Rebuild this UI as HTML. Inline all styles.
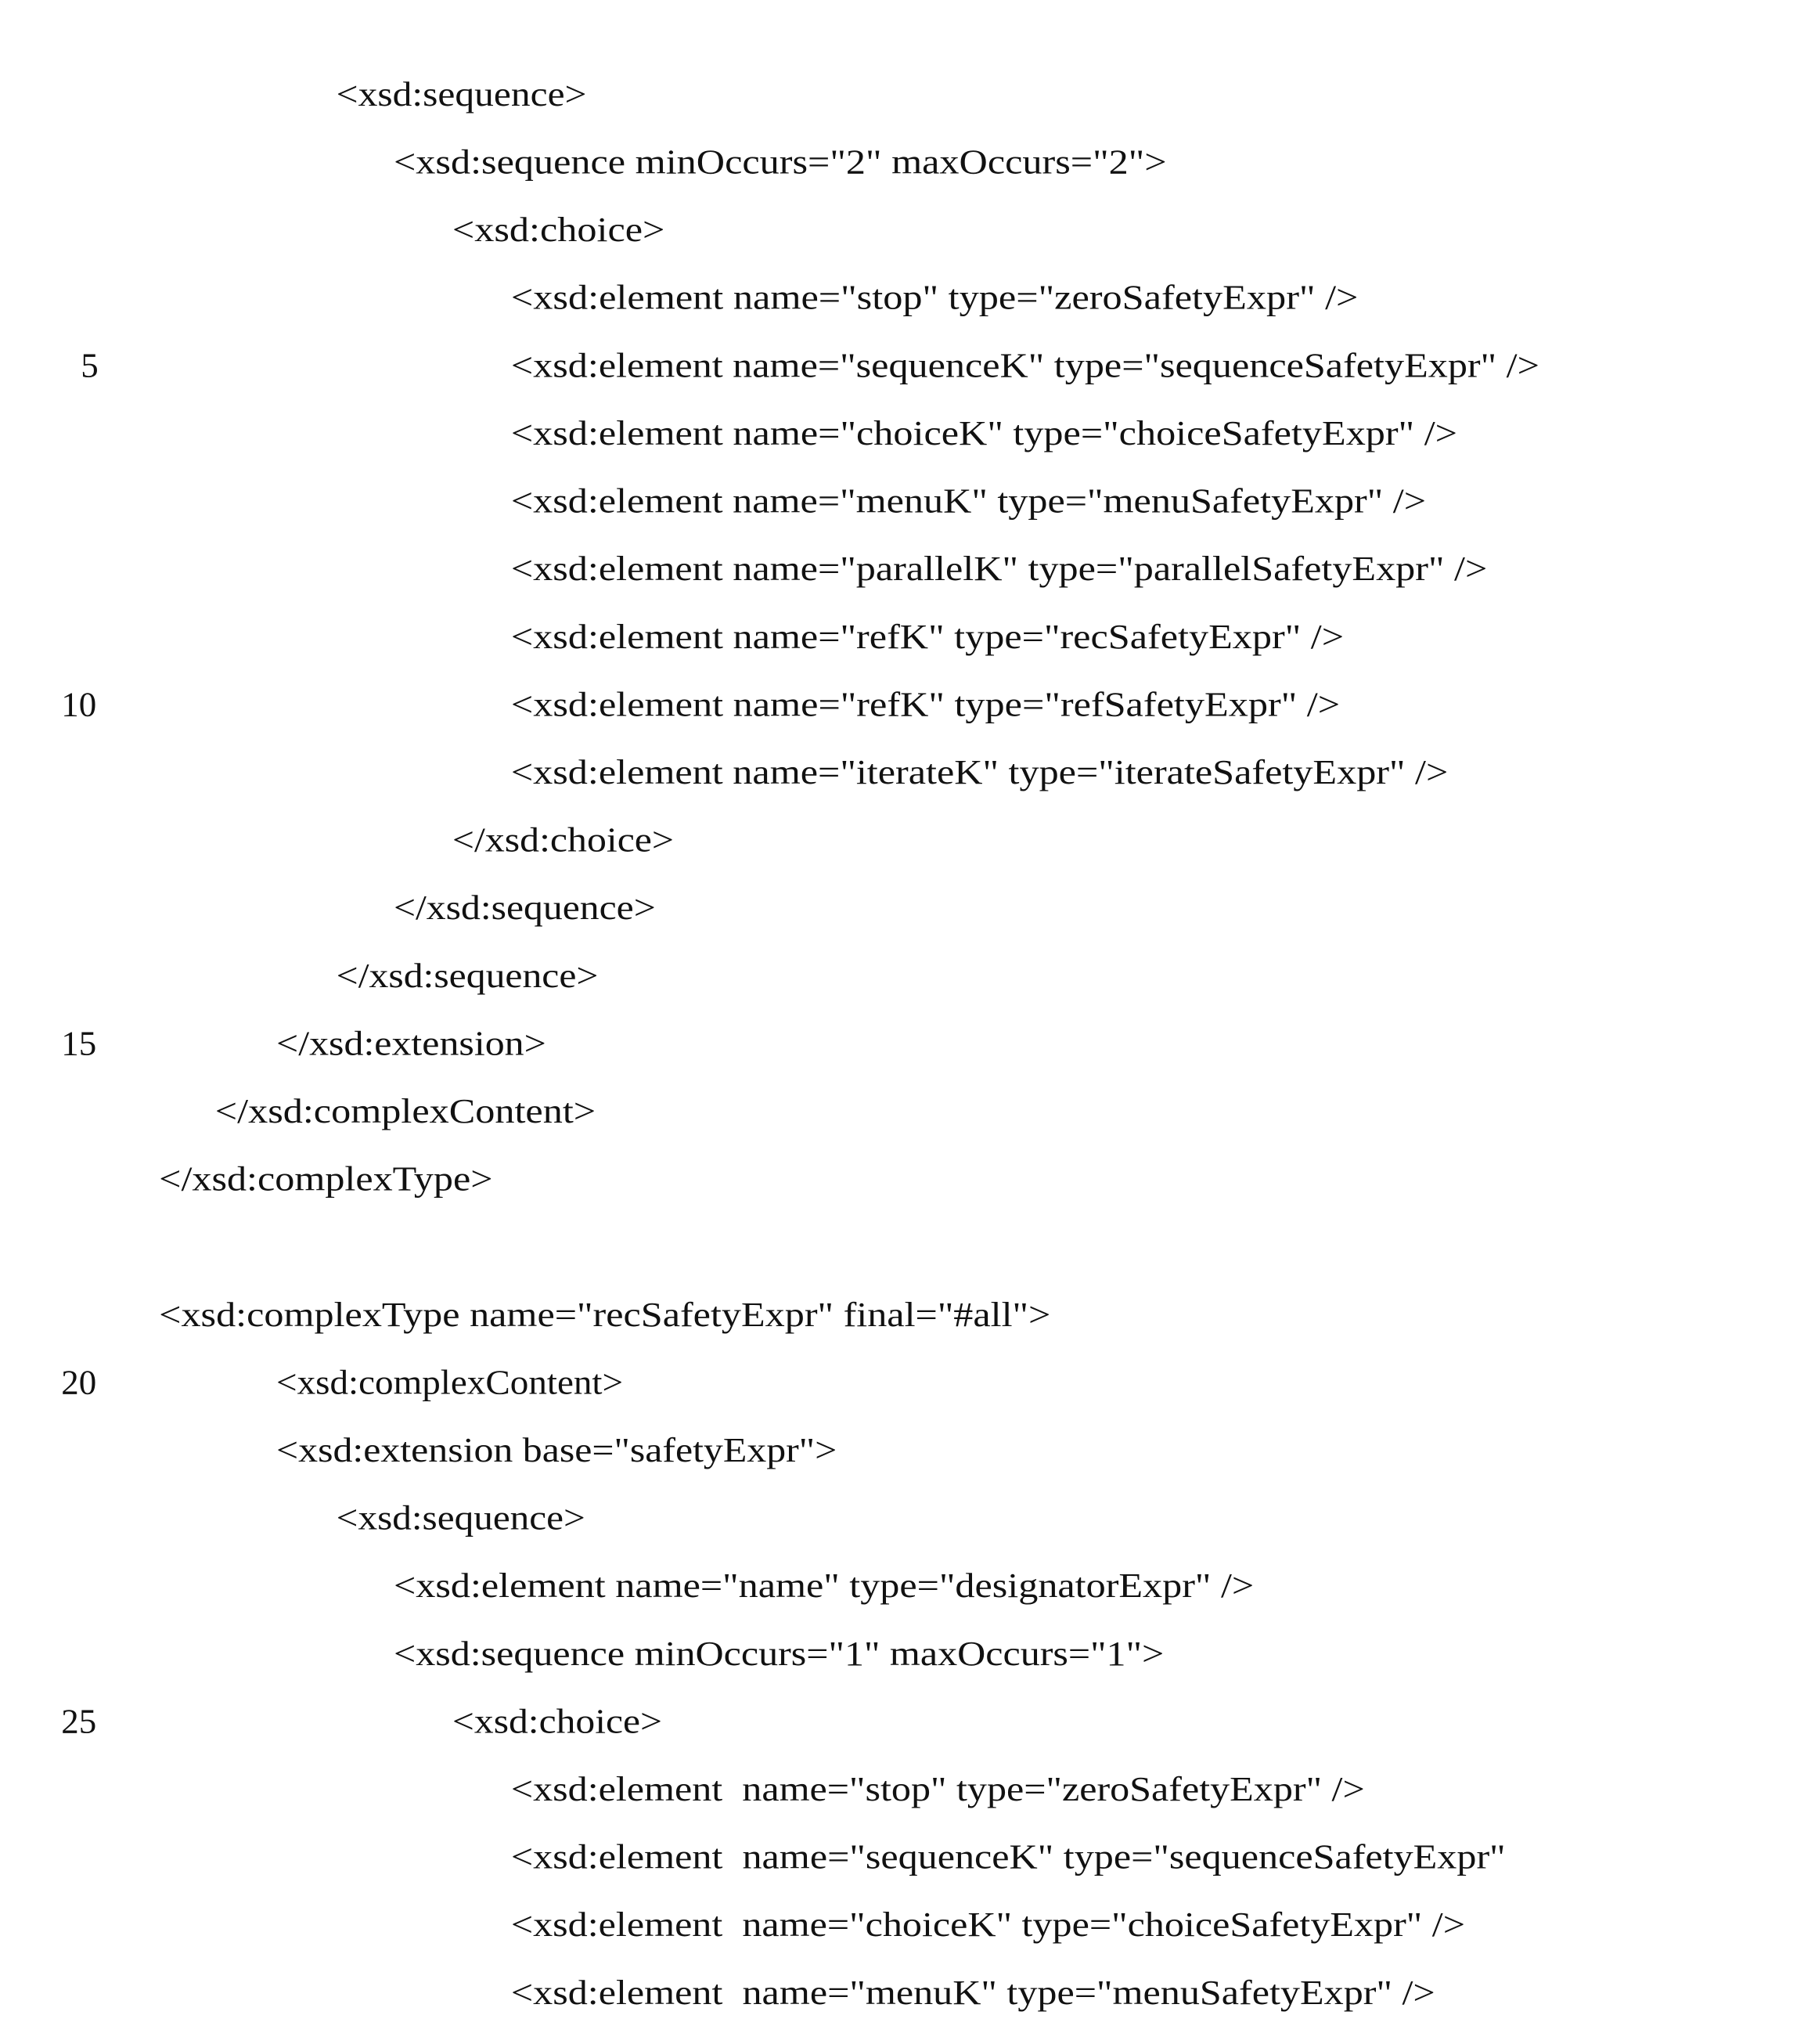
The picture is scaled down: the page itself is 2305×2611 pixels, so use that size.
<!DOCTYPE html>
<html><head><meta charset="utf-8"><style>
html,body{margin:0;padding:0;background:#fff;}
svg{display:block;}
text{font-family:"Liberation Serif",serif;font-size:27px;fill:#111;white-space:pre;}
</style></head><body>
<svg width="2305" height="2611" viewBox="0 0 1384 1567.7" xmlns="http://www.w3.org/2000/svg">
<text x="258" y="81" textLength="192" lengthAdjust="spacingAndGlyphs">&lt;xsd:sequence&gt;</text>
<text x="302" y="133" textLength="593" lengthAdjust="spacingAndGlyphs">&lt;xsd:sequence minOccurs="2" maxOccurs="2"&gt;</text>
<text x="347" y="185" textLength="163" lengthAdjust="spacingAndGlyphs">&lt;xsd:choice&gt;</text>
<text x="392" y="237" textLength="650" lengthAdjust="spacingAndGlyphs">&lt;xsd:element name="stop" type="zeroSafetyExpr" /&gt;</text>
<text x="62" y="289">5</text>
<text x="392" y="289" textLength="789" lengthAdjust="spacingAndGlyphs">&lt;xsd:element name="sequenceK" type="sequenceSafetyExpr" /&gt;</text>
<text x="392" y="341" textLength="726" lengthAdjust="spacingAndGlyphs">&lt;xsd:element name="choiceK" type="choiceSafetyExpr" /&gt;</text>
<text x="392" y="393" textLength="702" lengthAdjust="spacingAndGlyphs">&lt;xsd:element name="menuK" type="menuSafetyExpr" /&gt;</text>
<text x="392" y="445" textLength="749" lengthAdjust="spacingAndGlyphs">&lt;xsd:element name="parallelK" type="parallelSafetyExpr" /&gt;</text>
<text x="392" y="497" textLength="639" lengthAdjust="spacingAndGlyphs">&lt;xsd:element name="refK" type="recSafetyExpr" /&gt;</text>
<text x="47" y="549">10</text>
<text x="392" y="549" textLength="636" lengthAdjust="spacingAndGlyphs">&lt;xsd:element name="refK" type="refSafetyExpr" /&gt;</text>
<text x="392" y="601" textLength="719" lengthAdjust="spacingAndGlyphs">&lt;xsd:element name="iterateK" type="iterateSafetyExpr" /&gt;</text>
<text x="347" y="653" textLength="170" lengthAdjust="spacingAndGlyphs">&lt;/xsd:choice&gt;</text>
<text x="302" y="705" textLength="201" lengthAdjust="spacingAndGlyphs">&lt;/xsd:sequence&gt;</text>
<text x="258" y="757" textLength="201" lengthAdjust="spacingAndGlyphs">&lt;/xsd:sequence&gt;</text>
<text x="47" y="809">15</text>
<text x="212" y="809" textLength="207" lengthAdjust="spacingAndGlyphs">&lt;/xsd:extension&gt;</text>
<text x="165" y="861" textLength="292" lengthAdjust="spacingAndGlyphs">&lt;/xsd:complexContent&gt;</text>
<text x="122" y="913" textLength="256" lengthAdjust="spacingAndGlyphs">&lt;/xsd:complexType&gt;</text>
<text x="122" y="1017" textLength="684" lengthAdjust="spacingAndGlyphs">&lt;xsd:complexType name="recSafetyExpr" final="#all"&gt;</text>
<text x="47" y="1069">20</text>
<text x="212" y="1069" textLength="266" lengthAdjust="spacingAndGlyphs">&lt;xsd:complexContent&gt;</text>
<text x="212" y="1121" textLength="430" lengthAdjust="spacingAndGlyphs">&lt;xsd:extension base="safetyExpr"&gt;</text>
<text x="258" y="1173" textLength="191" lengthAdjust="spacingAndGlyphs">&lt;xsd:sequence&gt;</text>
<text x="302" y="1225" textLength="660" lengthAdjust="spacingAndGlyphs">&lt;xsd:element name="name" type="designatorExpr" /&gt;</text>
<text x="302" y="1277" textLength="591" lengthAdjust="spacingAndGlyphs">&lt;xsd:sequence minOccurs="1" maxOccurs="1"&gt;</text>
<text x="47" y="1329">25</text>
<text x="347" y="1329" textLength="161" lengthAdjust="spacingAndGlyphs">&lt;xsd:choice&gt;</text>
<text x="392" y="1381" textLength="655" lengthAdjust="spacingAndGlyphs">&lt;xsd:element  name="stop" type="zeroSafetyExpr" /&gt;</text>
<text x="392" y="1433" textLength="763" lengthAdjust="spacingAndGlyphs">&lt;xsd:element  name="sequenceK" type="sequenceSafetyExpr"</text>
<text x="392" y="1485" textLength="732" lengthAdjust="spacingAndGlyphs">&lt;xsd:element  name="choiceK" type="choiceSafetyExpr" /&gt;</text>
<text x="392" y="1537" textLength="709" lengthAdjust="spacingAndGlyphs">&lt;xsd:element  name="menuK" type="menuSafetyExpr" /&gt;</text>
</svg>
</body></html>
